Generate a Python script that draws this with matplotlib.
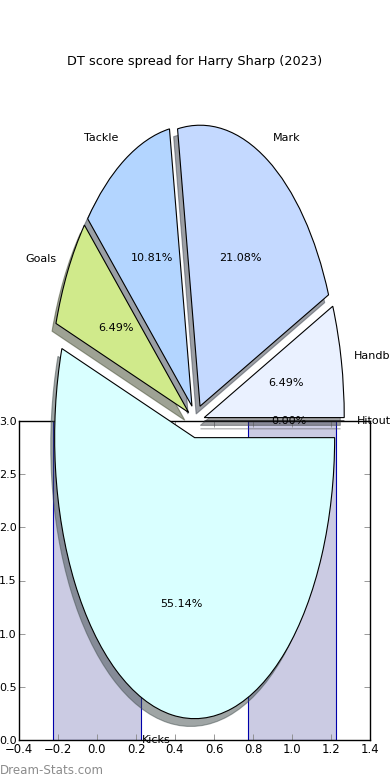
import matplotlib
matplotlib.use("Agg")
import matplotlib.pyplot as plt

# ── data ────────────────────────────────────────────────────────────────────
TITLE      = "DT score spread for Harry Sharp (2023)"
labels     = ["Handball", "Mark", "Tackle", "Goals", "Kicks", "Hitout"]
dt_points  = [12, 39, 20, 12, 102, 0]          # 185 DT points in total
colors     = ["#eaf1ff", "#c4d9ff", "#b3d5ff", "#d0ea8b", "#d9ffff", "#ffffff"]
explode    = [0.06] * len(labels)

bar_x      = [0, 1]
bar_h      = [3.0, 3.0]
xticks     = [-0.4, -0.2, 0.0, 0.2, 0.4, 0.6, 0.8, 1.0, 1.2, 1.4]
yticks     = [0.0, 0.5, 1.0, 1.5, 2.0, 2.5, 3.0]

FS = 8

fig = plt.figure(figsize=(3.9, 7.8), dpi=100, facecolor="white")

# ── bar axes (background) ───────────────────────────────────────────────────
ax = fig.add_axes([19 / 390, 40 / 780, 351 / 390, 319 / 780])
ax.bar(bar_x, bar_h, width=0.45, color="#cbcbe3", edgecolor="#0000aa",
       linewidth=0.8, align="center")
ax.set_xlim(-0.4, 1.4)
ax.set_ylim(0, 3.0)
ax.set_xticks(xticks)
ax.set_yticks(yticks)
ax.tick_params(direction="in", length=4, width=0.6, top=True, right=True,
               color="#888888", pad=2)
ax.tick_params(axis="x", labelsize=8.4)
ax.tick_params(axis="y", labelsize=FS, pad=1.5)
for s in ax.spines.values():
    s.set_linewidth(1.0)

# ── pie axes (on top, stretched) ─────────────────────────────────────────────
axp = fig.add_axes([0, 0, 1, 1])
axp.patch.set_alpha(0)
wedges, texts, autotexts = axp.pie(
    dt_points, labels=labels, colors=colors, explode=explode,
    autopct="%.2f%%", pctdistance=0.6, labeldistance=1.09,
    startangle=0, shadow=True, normalize=True,
    wedgeprops=dict(edgecolor="black", linewidth=0.8),
    textprops=dict(fontsize=FS),
)
axp.set_aspect("auto")
axp.set_xlim(-196 / 140, (390 - 196) / 140)
axp.set_ylim(-359 / 281, (780 - 359) / 281)
axp.axis("off")
for t in texts:
    t.set_clip_on(False)

fig.text(0.5, 1 - 61 / 780, TITLE, ha="center", va="center", fontsize=9.3)
fig.text(0.0, 1 - 770 / 780, "Dream-Stats.com", ha="left", va="center",
         fontsize=8.6, color="#8c8c8c")

fig.savefig("out.png", dpi=100, facecolor="white")
